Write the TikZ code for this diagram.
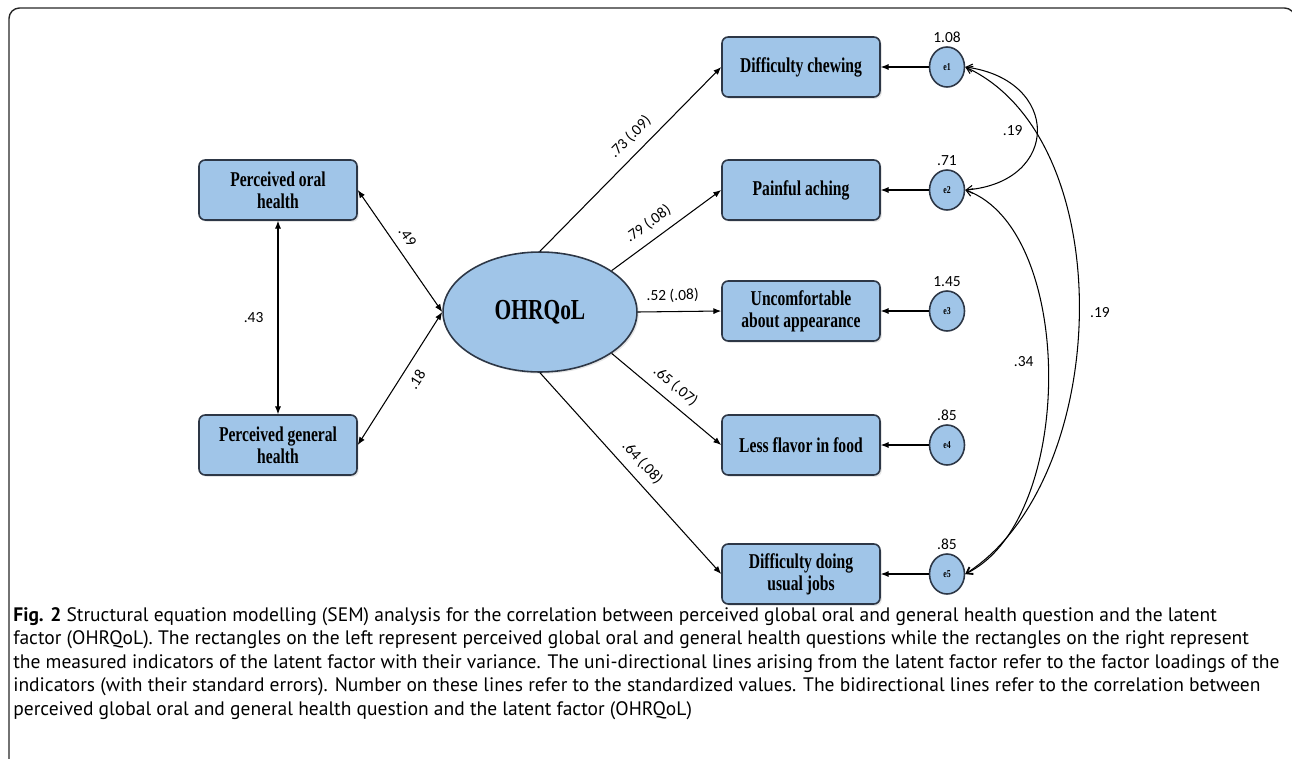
\documentclass[tikz,border=0pt]{standalone}
\usepackage{fontspec}
\setmainfont{Liberation Serif}
\newfontfamily\capfont{PT Sans}
\newfontfamily\numfont{Carlito}
\newfontfamily\semfont[FakeStretch=0.74]{Liberation Serif}
\usetikzlibrary{arrows.meta,shapes.geometric,shadows}
\definecolor{semblue}{RGB}{160,197,232}
\definecolor{semedge}{RGB}{45,55,70}

\begin{document}
\begin{tikzpicture}
  [x=0.02cm,y=-0.02cm,
   obs/.style={rectangle,rounded corners=3.5pt,fill=semblue,draw=semedge,line width=0.9pt,
     minimum width=3.16cm,minimum height=1.2cm,align=center,
     font=\semfont\bfseries\fontsize{12}{12.5}\selectfont,
     drop shadow={opacity=0.2,shadow xshift=1pt,shadow yshift=-1pt}},
   latent/.style={ellipse,fill=semblue,draw=semedge,line width=0.9pt,
     minimum width=3.88cm,minimum height=2.4cm,
     font=\semfont\bfseries\fontsize{16.5}{18}\selectfont,
     drop shadow={opacity=0.2,shadow xshift=1pt,shadow yshift=-1pt}},
   err/.style={ellipse,fill=semblue,draw=semedge,line width=0.9pt,inner sep=0pt,
     minimum width=0.7cm,minimum height=0.8cm,
     font=\semfont\bfseries\fontsize{6}{7}\selectfont,
     label distance=0.5pt},
   coef/.style={font=\numfont\fontsize{8.8}{10}\selectfont,inner sep=2pt},
   path/.style={line width=0.6pt,-{Latex[length=4.5pt,width=3.5pt]}},
   both/.style={line width=0.6pt,{Latex[length=4.5pt,width=3.5pt]}-{Latex[length=4.5pt,width=3.5pt]}},
   cov/.style={line width=0.6pt,{Straight Barb[length=3.5pt,width=4.5pt]}-{Straight Barb[length=3.5pt,width=4.5pt]}},
   capline/.style={anchor=base west,inner sep=0pt,font=\capfont\fontsize{11.1}{13}\selectfont}]
  \useasboundingbox (0,0) rectangle (1292,758);
  \draw[line width=0.8pt,draw=black!85,rounded corners=6pt] (9,8) rectangle (1295,800);

  % Preguntas globales y factor latente
  \node[obs] (x1) at (278,190) {Perceived oral\\health};
  \node[obs] (x2) at (278,445) {Perceived general\\health};
  \node[latent] (lat) at (540,312) {OHRQoL};

  % Indicadores y errores
  \foreach \i/\yy/\txt/\var in {1/67/{Difficulty chewing}/1.08, 2/190/{Painful aching}/.71,
      3/311/{Uncomfortable\\about appearance}/1.45, 4/445/{Less flavor in food}/.85,
      5/574/{Difficulty doing\\usual jobs}/.85}
  {
    \node[obs] (y\i) at (801,\yy) {\txt};
    \node[err,label={[coef]above:\var}] (e\i) at (947,\yy) {e\i};
    \draw[path] (e\i) -- (y\i);
  }

  % Correlaciones de la izquierda
  \draw[both] (x1) -- node[coef,left=6pt] {.43} (x2);
  \draw[both] (x1.east) -- node[coef,sloped,above=3pt,pos=0.45] {.49} (lat.west);
  \draw[both] (x2.east) -- node[coef,sloped,below=3pt,pos=0.55] {.18} (lat.west);

  % Cargas factoriales
  \foreach \a/\i/\v/\p in {north/1/{.73 (.09)}/0.56, 30/2/{.79 (.08)}/0.42,
      east/3/{.52 (.08)}/0.42, -30/4/{.65 (.07)}/0.49, south/5/{.64 (.08)}/0.5}
    \draw[path] (lat.\a) -- node[coef,sloped,above=3pt,pos=\p] {\v} (y\i.west);

  % Covarianzas entre errores
  \draw[cov] (e1.east) .. controls (1061,80) and (1061,182) .. node[coef,pos=0.5,left=6pt] {.19} (e2.east);
  \draw[cov] (e1.east) .. controls (1122,140) and (1112,480) .. node[coef,pos=0.5,right=4pt] {.19} (e5.east);
  \draw[cov] (e2.east) .. controls (1076,230) and (1076,520) .. node[coef,pos=0.47,left=6pt] {.34} (e5.east);

  % Pie de figura
  \node[capline] (cap1) at (13,621) {\textbf{Fig. 2} Structural equation modelling (SEM) analysis for the correlation between perceived global oral and general health question and the latent};
  \node[capline] (cap2) at (13,644.5) {factor (OHRQoL). The rectangles on the left represent perceived global oral and general health questions while the rectangles on the right represent};
  \node[capline] (cap3) at (13,668) {the measured indicators of the latent factor with their variance. The uni-directional lines arising from the latent factor refer to the factor loadings of the};
  \node[capline] (cap4) at (13,691.5) {indicators (with their standard errors). Number on these lines refer to the standardized values. The bidirectional lines refer to the correlation between};
  \node[capline] (cap5) at (13,715) {perceived global oral and general health question and the latent factor (OHRQoL)};
\end{tikzpicture}
\end{document}
